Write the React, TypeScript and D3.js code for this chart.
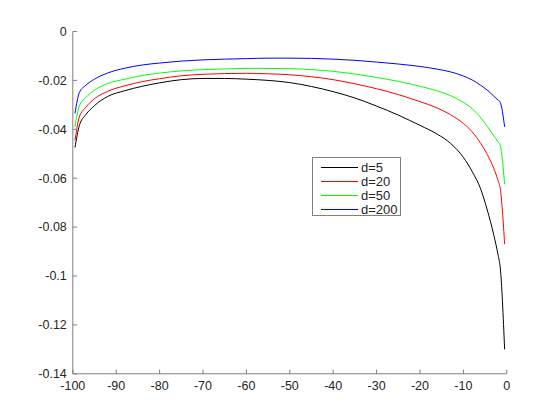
import React from "react";
import * as d3 from "d3";

const xs = [-99.5, -98.5, -97, -95, -92, -88, -84, -80, -75, -70, -65, -60, -55, -50, -45, -40, -35, -30, -25, -20, -16, -13, -10, -8, -6, -4.5, -3, -2, -1.5, -0.5];

const d5 = [-0.0475, -0.0385, -0.0340, -0.0303, -0.0266, -0.0242, -0.0224, -0.0210, -0.0197, -0.0192, -0.0192, -0.0195, -0.0200, -0.0209, -0.0225, -0.0246, -0.0272, -0.0305, -0.0342, -0.0384, -0.0420, -0.0457, -0.0515, -0.0572, -0.0645, -0.0730, -0.0832, -0.0915, -0.0967, -0.1300];
const d20 = [-0.0446, -0.0350, -0.0310, -0.0275, -0.0245, -0.0222, -0.0205, -0.0193, -0.0181, -0.0175, -0.0172, -0.0171, -0.0173, -0.0177, -0.0185, -0.0197, -0.0214, -0.0234, -0.0258, -0.0287, -0.0313, -0.0340, -0.0376, -0.0410, -0.0458, -0.0503, -0.0560, -0.0610, -0.0642, -0.0870];
const d50 = [-0.0390, -0.0305, -0.0270, -0.0240, -0.0213, -0.0195, -0.0180, -0.0170, -0.0161, -0.0156, -0.0153, -0.0151, -0.0151, -0.0152, -0.0156, -0.0163, -0.0174, -0.0188, -0.0204, -0.0224, -0.0243, -0.0262, -0.0290, -0.0315, -0.0353, -0.0388, -0.0426, -0.0452, -0.0467, -0.0625];
const d200 = [-0.0335, -0.0250, -0.0220, -0.0195, -0.0170, -0.0150, -0.0137, -0.0129, -0.0121, -0.0116, -0.0113, -0.0111, -0.0109, -0.0109, -0.0110, -0.0113, -0.0118, -0.0125, -0.0133, -0.0143, -0.0154, -0.0165, -0.0182, -0.0198, -0.0220, -0.0240, -0.0264, -0.0281, -0.0290, -0.0390];

const seriesNames = ["d=5", "d=20", "d=50", "d=200"];
const seriesValues = [d5, d20, d50, d200];
const seriesColors = ["#000000", "#ff0000", "#00ff00", "#0000ff"];

const xTicks = [-100, -90, -80, -70, -60, -50, -40, -30, -20, -10, 0];
const yTicks = [0, -0.02, -0.04, -0.06, -0.08, -0.1, -0.12, -0.14];

export default function App() {
  const W = 560, H = 420;
  const left = 72.8, right = 506.8, top = 31.5, bottom = 373.8;
  const x = d3.scaleLinear().domain([-100, 0]).range([left, right]);
  const y = d3.scaleLinear().domain([-0.14, 0]).range([bottom, top]);
  const line = d3.line<number>()
    .x((_, i) => x(xs[i]))
    .y((d) => y(d))
    .curve(d3.curveMonotoneX);
  const axisColor = "#808080";
  const textColor = "#262626";
  const font = "Arial, 'Liberation Sans', Helvetica, sans-serif";
  const tl = 4.3;

  const legX = 312.5, legY = 157.5, legW = 88, legH = 58;
  const rowY = [167.5, 181.5, 195.5, 209.5];

  return (
    <svg width={W} height={H} style={{ position: "absolute", left: 0, top: 0, background: "#fff" }}>
      <rect x={0} y={0} width={W} height={H} fill="#fff" />
      {seriesValues.map((vals, i) => (
        <path key={i} d={line(vals) || ""} fill="none" stroke={seriesColors[i]} strokeWidth={1} />
      ))}
      <line x1={left} y1={top} x2={left} y2={bottom} stroke={axisColor} strokeWidth={1} />
      <line x1={left} y1={bottom} x2={right} y2={bottom} stroke={axisColor} strokeWidth={1} />
      {yTicks.map((t) => (
        <g key={"y" + t}>
          <line x1={left} x2={left + tl} y1={y(t)} y2={y(t)} stroke={axisColor} />
          <text x={left - 6} y={y(t)} dy="0.35em" textAnchor="end" fontSize={12.5} fontFamily={font} fill={textColor}>
            {String(+t.toFixed(2))}
          </text>
        </g>
      ))}
      {xTicks.map((t) => (
        <g key={"x" + t}>
          <line x1={x(t)} x2={x(t)} y1={bottom} y2={bottom - tl} stroke={axisColor} />
          <text x={x(t)} y={bottom + 16} textAnchor="middle" fontSize={12.5} fontFamily={font} fill={textColor}>
            {String(t)}
          </text>
        </g>
      ))}
      <rect x={legX} y={legY} width={legW} height={legH} fill="#fff" stroke={axisColor} strokeWidth={1} />
      {seriesNames.map((n, i) => (
        <g key={n}>
          <line x1={321} x2={358} y1={rowY[i]} y2={rowY[i]} stroke={seriesColors[i]} strokeWidth={1} />
          <text x={361} y={rowY[i]} dy="0.35em" fontSize={13} fontFamily={font} fill={textColor}>{n}</text>
        </g>
      ))}
    </svg>
  );
}
